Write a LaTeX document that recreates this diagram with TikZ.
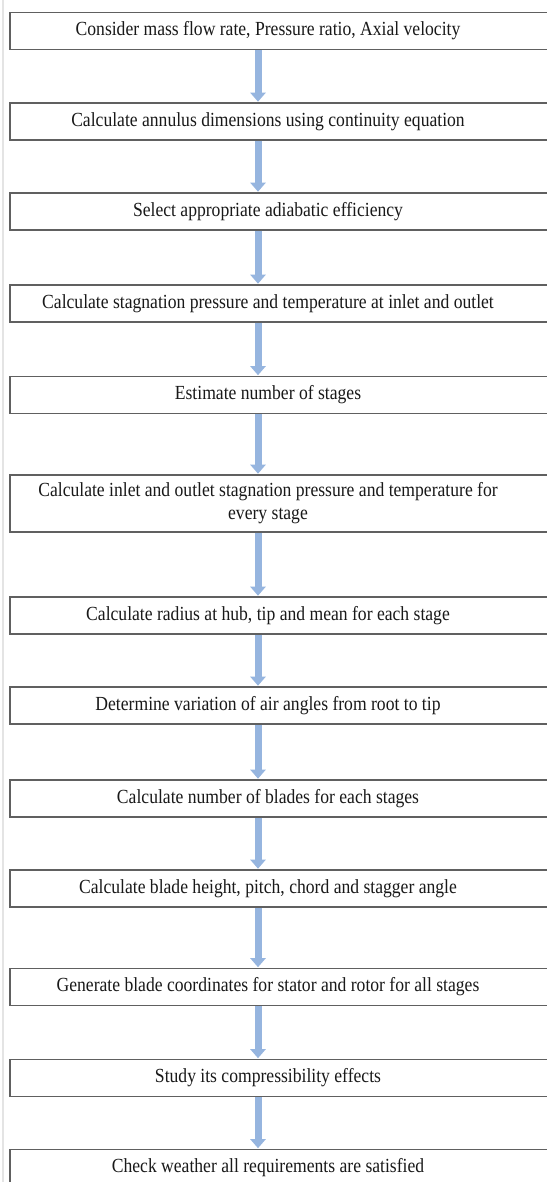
\documentclass[tikz,border=0pt]{standalone}
\usepackage{fontspec}
\setmainfont{Liberation Serif}[FakeStretch=0.88]
\usetikzlibrary{arrows.meta}
\definecolor{boxline}{HTML}{606060}
\definecolor{arrowblue}{HTML}{96B5DF}
\definecolor{pageedge}{HTML}{E4E4E4}
\tikzset{
  stepbox/.style={draw=boxline, line width=1.6pt, minimum width=540pt, minimum height=37pt, inner sep=0pt},
  lbl/.style={font=\fontsize{20pt}{23pt}\selectfont, xshift=-12pt, align=center, text=black!90},
  flow/.style={arrowblue, line width=7pt, -{Triangle[width=15pt,length=9pt]}, shorten >=0.5pt}
}
\begin{document}
\begin{tikzpicture}[x=1pt,y=-1pt]
\useasboundingbox (0,0) rectangle (546,1182);
\fill[white] (0,0) rectangle (546,1182);
\draw[pageedge, line width=1.5pt] (3,0) -- (3,1182);
\node[stepbox, label={[lbl]center:Consider mass flow rate, Pressure ratio, Axial velocity}] (b1) at (280,31) {};
\node[stepbox, label={[lbl]center:Calculate annulus dimensions using continuity equation}] (b2) at (280,121.5) {};
\node[stepbox, label={[lbl]center:Select appropriate adiabatic efficiency}] (b3) at (280,211.5) {};
\node[stepbox, label={[lbl]center:Calculate stagnation pressure and temperature at inlet and outlet}] (b4) at (280,303.5) {};
\node[stepbox, label={[lbl]center:Estimate number of stages}] (b5) at (280,395) {};
\node[stepbox, minimum height=57pt, label={[lbl]center:Calculate inlet and outlet stagnation pressure and temperature for\\every stage}] (b6) at (280,503.5) {};
\node[stepbox, label={[lbl]center:Calculate radius at hub, tip and mean for each stage}] (b7) at (280,615.5) {};
\node[stepbox, label={[lbl]center:Determine variation of air angles from root to tip}] (b8) at (280,705.5) {};
\node[stepbox, label={[lbl]center:Calculate number of blades for each stages}] (b9) at (280,798.5) {};
\node[stepbox, label={[lbl]center:Calculate blade height, pitch, chord and stagger angle}] (b10) at (280,888.5) {};
\node[stepbox, label={[lbl]center:Generate blade coordinates for stator and rotor for all stages}] (b11) at (280,987) {};
\node[stepbox, label={[lbl]center:Study its compressibility effects}] (b12) at (280,1078) {};
\node[stepbox, label={[lbl]center:Check weather all requirements are satisfied}] (b13) at (280,1168) {};
\coordinate (ax) at (258,0);
\foreach \a/\b in {b1/b2,b2/b3,b3/b4,b4/b5,b5/b6,b6/b7,b7/b8,b8/b9,b9/b10,b10/b11,b11/b12,b12/b13}{
  \draw[flow] (\a.south -| ax) -- (\b.north -| ax);
}
\end{tikzpicture}
\end{document}
